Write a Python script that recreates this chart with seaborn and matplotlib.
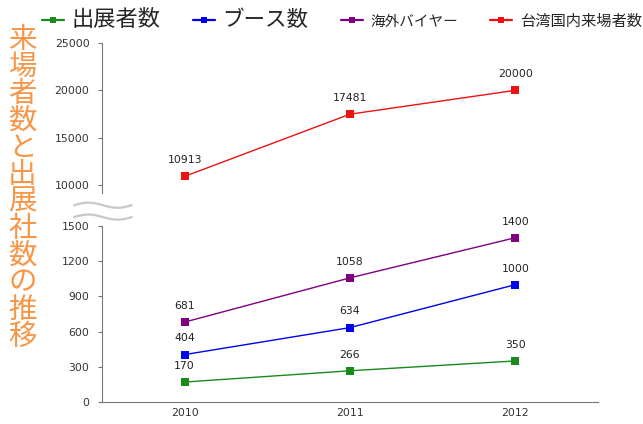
import numpy as np
import pandas as pd
import matplotlib
matplotlib.use('Agg')
import matplotlib.pyplot as plt
from matplotlib.lines import Line2D
import seaborn as sns

# data
years = ['2010', '2011', '2012']
exhibitors = [170, 266, 350]          # 出展者数
booths = [404, 634, 1000]             # ブース数
buyers = [681, 1058, 1400]            # 海外バイヤー
visitors = [10913, 17481, 20000]      # 台湾国内来場者数
series_names = ['出展者数', 'ブース数', '海外バイヤー', '台湾国内来場者数']
series_colors = ['#1a8a1a', '#0000ee', '#800080', '#ee1111']

sns.set_style('white')
plt.rcParams['font.family'] = ['Noto Sans CJK JP', 'DejaVu Sans']

df = pd.DataFrame({
    'x': [0, 1, 2] * 4,
    'value': exhibitors + booths + buyers + visitors,
    'series': np.repeat(series_names, 3),
})

fig = plt.figure(figsize=(6.43, 4.24), dpi=100)
ax_top = fig.add_axes([0.1586, 0.5458, 0.7714, 0.3528])
ax_bot = fig.add_axes([0.1586, 0.0519, 0.7714, 0.4151])

low = df[df['series'] != '台湾国内来場者数']
high = df[df['series'] == '台湾国内来場者数']
pal = dict(zip(series_names, series_colors))

sns.lineplot(data=low, x='x', y='value', hue='series', palette=pal, marker='s',
             markersize=5.5, markeredgewidth=0, linewidth=1, ax=ax_bot, legend=False)
sns.lineplot(data=high, x='x', y='value', hue='series', palette=pal, marker='s',
             markersize=5.5, markeredgewidth=0, linewidth=1, ax=ax_top, legend=False)

# data labels
for ax, sub in [(ax_bot, low), (ax_top, high)]:
    for _, r in sub.iterrows():
        ax.annotate(f"{r['value']}", (r['x'], r['value']), xytext=(0, 8),
                    textcoords='offset points', ha='center', va='bottom',
                    fontsize=7.8, color='#222222', family='DejaVu Sans')

grey = '#777777'
for ax in (ax_top, ax_bot):
    ax.set_xlim(-0.5, 2.5)
    ax.set_xlabel('')
    ax.set_ylabel('')
    for s in ['top', 'right']:
        ax.spines[s].set_visible(False)
    ax.spines['left'].set_color(grey)
    ax.spines['bottom'].set_color(grey)
    ax.tick_params(axis='y', labelsize=7.8, labelcolor='#333333', length=3,
                   color=grey, left=True, direction='out', pad=6)

ax_top.set_ylim(9200, 25000)
ax_top.set_yticks([10000, 15000, 20000, 25000])
ax_top.spines['bottom'].set_visible(False)
ax_top.set_xticks([])
for lab in ax_top.get_yticklabels():
    lab.set_family('DejaVu Sans')

ax_bot.set_ylim(0, 1500)
ax_bot.set_yticks([0, 300, 600, 900, 1200, 1500])
ax_bot.set_xticks([0, 1, 2])
ax_bot.set_xticklabels(years, fontsize=7.8, color='#333333', family='DejaVu Sans')
ax_bot.tick_params(axis='x', length=0, pad=4)
ax_bot.set_xticks([0.5, 1.5, 2.5], minor=True)
ax_bot.tick_params(axis='x', which='minor', direction='in', length=4, color=grey)
for lab in ax_bot.get_yticklabels():
    lab.set_family('DejaVu Sans')

# axis break marks
t = np.linspace(0.115, 0.205, 60)
for yb in (0.516, 0.488):
    wave = yb + 0.006 * np.sin((t - 0.115) / 0.09 * 2 * np.pi)
    fig.add_artist(Line2D(t, wave, color='#c8c8c8', lw=1.6, transform=fig.transFigure))

# legend (first two entries are set larger, as in the original)
handles = [Line2D([], [], color=c, marker='s', markersize=5, markeredgewidth=0, lw=1.6)
           for c in series_colors]
leg = fig.legend(handles, series_names, loc='center left', bbox_to_anchor=(0.065, 0.955),
                 ncol=4, frameon=False, fontsize=11, handlelength=1.45, handletextpad=0.5,
                 columnspacing=2.1, borderaxespad=0, borderpad=0)
for txt, size in zip(leg.get_texts(), [16, 15.5, 10.5, 11]):
    txt.set_fontsize(size)

# vertical title
title = '来場者数と出展社数の推移'
fig.text(0.035, 0.942, '\n'.join(title), ha='center', va='top', fontsize=20.5,
         color='#f79646', linespacing=0.87)

fig.savefig('out.png', dpi=100)
